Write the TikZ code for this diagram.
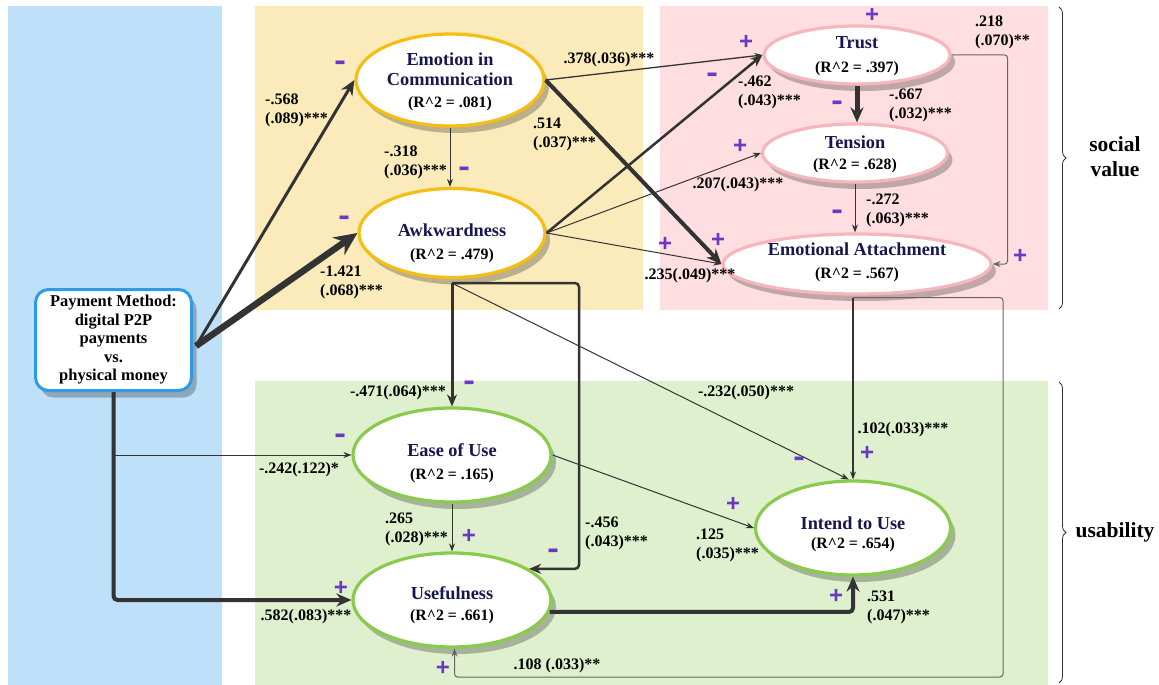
\documentclass[tikz,border=0pt]{standalone}
\usepackage{fontspec}
\usepackage{graphicx}
\setmainfont{Liberation Serif}
\newfontfamily\signfont{Liberation Sans}
\usetikzlibrary{shapes.geometric,arrows.meta,shadows,calc,decorations.pathreplacing}
\definecolor{bluebg}{HTML}{BEE0F8}
\definecolor{yellowbg}{HTML}{FBEBBB}
\definecolor{pinkbg}{HTML}{FFDEE1}
\definecolor{greenbg}{HTML}{DEF0CD}
\definecolor{yellowln}{HTML}{F5BE12}
\definecolor{pinkln}{HTML}{F6B6BC}
\definecolor{greenln}{HTML}{8ACB4E}
\definecolor{boxblue}{HTML}{2F9BE8}
\definecolor{arrc}{HTML}{333333}
\definecolor{loopc}{HTML}{666666}
\definecolor{signc}{HTML}{6A38C4}
\definecolor{navy}{HTML}{17174F}
\begin{document}
\begin{tikzpicture}[x=1pt,y=-1pt,
  ell/.style={ellipse, draw=#1, line width=3.2pt, fill=white, inner sep=0pt,
    drop shadow={shadow xshift=5pt, shadow yshift=-7pt, fill=black, opacity=0.25}},
  ttl/.style={font=\fontsize{18.3}{20}\selectfont\bfseries, text=navy, align=center, inner sep=0pt},
  rtwo/.style={font=\fontsize{15.8}{17}\selectfont\bfseries, text=black, inner sep=0pt},
  lbl/.style={font=\fontsize{16}{19}\selectfont\bfseries, text=black, align=left, inner sep=0pt},
  lblw/.style={lbl, anchor=west},
  pls/.style={font=\signfont\bfseries\fontsize{24}{24}\selectfont, text=signc, inner sep=0pt},
  mns/.style={font=\signfont\bfseries\fontsize{19}{19}\selectfont, text=signc, inner sep=0pt},
  side/.style={font=\fontsize{21.5}{25}\selectfont\bfseries, align=center, inner sep=0pt},
  conn/.style={draw=arrc, line width=#1},
  tipS/.style={-{Stealth[length=8pt,width=6pt]}},
  tipM/.style={-{Stealth[length=12pt,width=10pt]}},
  tipL/.style={-{Stealth[length=15pt,width=13pt]}},
  tipXL/.style={-{Stealth[length=23pt,width=21pt]}},
  brc/.style={draw=arrc, line width=0.8pt, decorate, decoration={brace, amplitude=7pt}}
]
\useasboundingbox (0,0) rectangle (1159,685);
% panels
\fill[bluebg] (8,6) rectangle (222,685);
\fill[yellowbg] (255,6) rectangle (643,310);
\fill[pinkbg] (660,6) rectangle (1048,310);
\fill[greenbg] (255,381) rectangle (1048,685);

% braces
\draw[brc] (1059,7) -- (1059,309);
\draw[brc] (1059,382) -- (1059,683);
\node[side] (sv) at (1115,157) {social\\value};
\node[side] (us) at (1115,532) {usability};

% nodes
\node[draw=boxblue, line width=3pt, fill=white, rounded corners=13pt, minimum width=156pt, minimum height=101pt,
  inner sep=0pt, align=center, font=\fontsize{16.5}{18.5}\selectfont\bfseries,
  drop shadow={shadow xshift=5pt, shadow yshift=-7pt, fill=black, opacity=0.25}]
  (pay) at (113.5,340) {Payment Method:\\digital P2P\\payments\\vs.\\physical money};

\node[ell=yellowln, minimum width=188pt, minimum height=92pt] (emo) at (450,80) {};
\node[ell=yellowln, minimum width=186pt, minimum height=89pt] (awk) at (452,233) {};
\node[ell=pinkln, minimum width=186pt, minimum height=58pt] (trust) at (857,55) {};
\node[ell=pinkln, minimum width=185pt, minimum height=58pt] (tension) at (855,153) {};
\node[ell=pinkln, minimum width=268pt, minimum height=60pt] (ea) at (857,264) {};
\node[ell=greenln, minimum width=198pt, minimum height=94pt] (ease) at (452,455) {};
\node[ell=greenln, minimum width=198pt, minimum height=94pt] (use) at (452,600) {};
\node[ell=greenln, minimum width=195pt, minimum height=94pt] (intend) at (853,528) {};

% node texts
\node[ttl] (emot) at (450,69) {Emotion in\\Communication};
\node[rtwo] (emor) at (450,104) {(R\^{}2 = .081)};
\node[ttl] (awkt) at (452,230) {Awkwardness};
\node[rtwo] (awkr) at (452,256) {(R\^{}2 = .479)};
\node[ttl] (trustt) at (857,43) {Trust};
\node[rtwo] (trustr) at (857,69) {(R\^{}2 = .397)};
\node[ttl] (tent) at (855,142) {Tension};
\node[rtwo] (tenr) at (855,166) {(R\^{}2 = .628)};
\node[ttl] (eat) at (857,249) {Emotional Attachment};
\node[rtwo] (ear) at (857,275) {(R\^{}2 = .567)};
\node[ttl] (easet) at (452,450) {Ease of Use};
\node[rtwo] (easer) at (452,476) {(R\^{}2 = .165)};
\node[ttl] (uset) at (452,593) {Usefulness};
\node[rtwo] (user) at (452,617) {(R\^{}2 = .661)};
\node[ttl] (intt) at (853,523) {Intend to Use};
\node[rtwo] (intr) at (853,545) {(R\^{}2 = .654)};

% connectors
\coordinate (ps) at ($(pay.east)+(3,6)$);
\draw[conn=3pt, tipL] (ps) -- (emo.west);
\draw[conn=6.5pt, tipXL] (ps) -- (awk.west);
\draw[conn=4pt, tipL, rounded corners=4pt] (pay.south) |- (use.west);
\coordinate (br) at (pay.south |- ease.west);
\draw[conn=1pt, tipS] (br) -- (ease.west);
\draw[conn=1pt, tipS] (emo.south) -- (emo.south |- awk.north);
\draw[conn=1.3pt, tipS] (emo.east) -- (trust.west);
\draw[conn=4pt, tipL] (emo.east) -- (ea.west);
\draw[conn=2.5pt, tipM] (awk.east) -- (trust.west);
\draw[conn=1pt, tipS] (awk.east) -- (tension.west);
\draw[conn=1pt, tipS] (awk.east) -- (ea.west);
\draw[conn=5pt, tipL] (trust.south) -- (trust.south |- tension.north);
\draw[conn=1pt, tipS] (tension.south) -- (tension.south |- ea.north);
\draw[draw=loopc, line width=1pt, tipS, rounded corners=3pt] (trust.east) -- ++(56,0) |- (ea.east);
\coordinate (ab) at ($(awk.south)+(0,4)$);
\draw[conn=3pt, tipM] (ab) -- (ease.north);
\coordinate (r1) at (579,283);
\draw[conn=2.5pt, tipM, rounded corners=4pt] (ab) -- (r1) |- (use.22);
\draw[conn=1pt, tipS] (ab) -- (intend.95);
\coordinate (eb) at (intend.north |- ea.south);
\draw[conn=1.2pt, tipS] ($(eb)+(0,2)$) -- (intend.north);
\coordinate (b1) at (1003,677);
\draw[draw=loopc, line width=1pt, tipS, rounded corners=3pt] ($(eb)+(0,2)$) -| (b1) -| (use.-87);
\draw[conn=1pt, tipS] (ease.east) -- (intend.west);
\draw[conn=1pt, tipS] (ease.south) -- (ease.south |- use.north);
\draw[conn=4pt, tipL, rounded corners=4pt] (use.-7) -| (intend.south);

% edge labels
\node[lblw] (l1) at (265,110) {-.568\\(.089)***};
\node[lblw] (l2) at (320,282) {-1.421\\(.068)***};
\node[lblw] (l3) at (384,162) {-.318\\(.036)***};
\node[lblw] (l4) at (533,134) {.514\\(.037)***};
\node[lblw] (l5) at (738,92) {-.462\\(.043)***};
\node[lblw] (l6) at (889,105) {-.667\\(.032)***};
\node[lblw] (l7) at (975,32) {.218\\(.070)**};
\node[lblw] (l8) at (866,210) {-.272\\(.063)***};
\node[lblw] (l9) at (385,529) {.265\\(.028)***};
\node[lblw] (l10) at (585,533) {-.456\\(.043)***};
\node[lblw] (l11) at (696,545) {.125\\(.035)***};
\node[lblw] (l12) at (867,607) {.531\\(.047)***};
\node[lbl] (l13) at (609,60) {.378(.036)***};
\node[lbl] (l14) at (738,185) {.207(.043)***};
\node[lbl] (l15) at (690,276) {.235(.049)***};
\node[lbl] (l16) at (398,393) {-.471(.064)***};
\node[lbl] (l17) at (299,470) {-.242(.122)*};
\node[lbl] (l18) at (306,617) {.582(.083)***};
\node[lbl] (l19) at (746,393) {-.232(.050)***};
\node[lbl] (l20) at (903,430) {.102(.033)***};
\node[lbl] (l21) at (557,666) {.108 (.033)**};

% signs
\foreach \p [count=\i] in {(341,67),(345,222),(465,173),(713,79),(838,107),(838,216),(470,387),(341,440),(554,555),(800,463)}
  \node[mns] (m\i) at \p {\scalebox{0.95}[1.9]{–}};
\foreach \p [count=\i] in {(746,42),(872,15),(740,146),(718,240),(665,244),(1020,256),(469,536),(341,588),(733,504),(867,453),(836,596),(443,668)}
  \node[pls] (p\i) at \p {+};
\end{tikzpicture}
\end{document}
